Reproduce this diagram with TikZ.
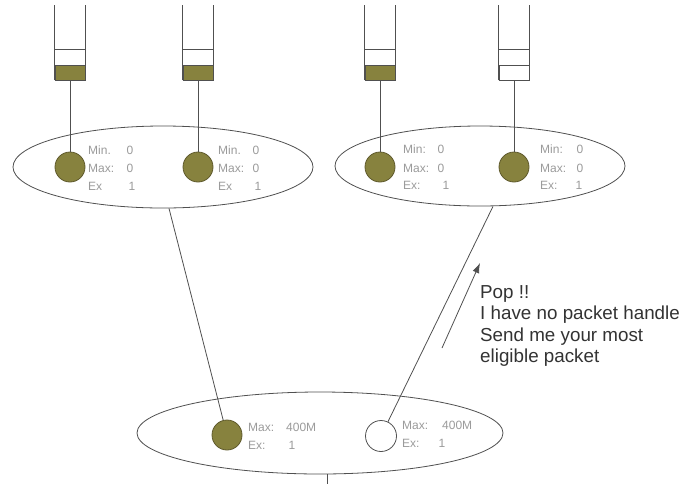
\documentclass[tikz,border=0pt]{standalone}
\usepackage{fontspec}
\setmainfont{Liberation Sans}
\usetikzlibrary{shapes.geometric,arrows.meta}
\definecolor{olivefill}{RGB}{135,130,62}
\definecolor{olivedraw}{RGB}{95,90,45}
\definecolor{linegray}{RGB}{80,80,80}
\definecolor{textgray}{RGB}{155,155,155}
\begin{document}
\begin{tikzpicture}[x=1pt,y=-1pt,
  conn/.style={draw=linegray, line width=0.8pt},
  group/.style={ellipse, draw=linegray, line width=0.8pt, inner sep=0pt},
  sched/.style={circle, draw=olivedraw, fill=olivefill, line width=0.8pt, minimum size=30pt, inner sep=0pt},
  idle/.style={circle, draw=linegray, fill=white, line width=0.8pt, minimum size=31pt, inner sep=0pt},
  slot/.style={rectangle, draw=linegray, fill=olivefill, line width=0.8pt, minimum width=30pt, minimum height=15pt, inner sep=0pt},
  emptyslot/.style={slot, fill=white},
  lbl/.style={text=textgray, font=\fontsize{12}{14}\selectfont, inner sep=0pt, anchor=west},
  val/.style={text=textgray, font=\fontsize{12}{14}\selectfont, inner sep=0pt},
  note/.style={font=\fontsize{18.8}{21.5}\selectfont, text=black!80, align=left, inner sep=0pt, anchor=north west}]

\useasboundingbox (0,0) rectangle (683,483);
\fill[white] (0,0) rectangle (683,483);

% groups
\node[group, minimum width=300pt, minimum height=82pt] (e1) at (163,167) {};
\node[group, minimum width=290pt, minimum height=80pt] (e2) at (480,166) {};
\node[group, minimum width=366pt, minimum height=82pt] (e3) at (320,433) {};

% queues
\node[slot] (q1) at (70,72.5) {};
\node[slot] (q2) at (198,72.5) {};
\node[slot] (q3) at (380,72.5) {};
\node[emptyslot] (q4) at (514,72.5) {};
\foreach \q in {q1,q2,q3,q4}{
  \draw[conn] (\q.south west) -- ++(0,-75);
  \draw[conn] (\q.south east) -- ++(0,-75);
  \draw[conn] ([yshift=15pt]\q.north west) -- ([yshift=15pt]\q.north east);
}

% leaf classes
\node[sched] (c1) at (70,167) {};
\node[sched] (c2) at (198,167) {};
\node[sched] (c3) at (380,167) {};
\node[sched] (c4) at (514,167) {};
\draw[conn] (q1.south) -- (c1);
\draw[conn] (q2.south) -- (c2);
\draw[conn] (q3.south) -- (c3);
\draw[conn] (q4.south) -- (c4);

% root classes
\node[sched] (b1) at (227,435) {};
\node[idle] (b2) at (381,436) {};
\draw[conn] ([xshift=6pt]e1.south) -- (b1);
\draw[conn] ([xshift=13pt]e2.south) -- (b2);
\coordinate (down) at (327,492);
\draw[conn] ([xshift=7pt]e3.south) -- (down);

% labels top
\node[lbl] (l1a) at (88,150) {Min.};
\node[lbl] (l1b) at (88,168) {Max:};
\node[lbl] (l1c) at (88,186) {Ex};
\node[val] (v1a) at (130,150) {0};
\node[val] (v1b) at (130,168) {0};
\node[val] (v1c) at (132,186) {1};

\node[lbl] (l2a) at (218,150) {Min.};
\node[lbl] (l2b) at (218,168) {Max:};
\node[lbl] (l2c) at (218,186) {Ex};
\node[val] (v2a) at (256,150) {0};
\node[val] (v2b) at (256,168) {0};
\node[val] (v2c) at (258,186) {1};

\node[lbl] (l3a) at (403,149) {Min:};
\node[lbl] (l3b) at (403,168) {Max:};
\node[lbl] (l3c) at (403,185) {Ex:};
\node[val] (v3a) at (441,149) {0};
\node[val] (v3b) at (441,168) {0};
\node[val] (v3c) at (446,185) {1};

\node[lbl] (l4a) at (540,149) {Min:};
\node[lbl] (l4b) at (540,168) {Max:};
\node[lbl] (l4c) at (540,185) {Ex:};
\node[val] (v4a) at (580,149) {0};
\node[val] (v4b) at (580,168) {0};
\node[val] (v4c) at (579,185) {1};

% labels bottom
\node[lbl] (l5a) at (248,427) {Max:};
\node[lbl] (l5b) at (248,445) {Ex:};
\node[val, anchor=west] (v5a) at (286,427) {400M};
\node[val] (v5b) at (292,445) {1};

\node[lbl] (l6a) at (402,425) {Max:};
\node[lbl] (l6b) at (402,443) {Ex:};
\node[val, anchor=west] (v6a) at (442,425) {400M};
\node[val] (v6b) at (442,443) {1};

% request arrow
\coordinate (as) at (442,348);
\coordinate (ae) at (480,263);
\draw[conn, -{Latex[length=10pt,width=7pt]}] (as) -- (ae);

\node[note] (msg) at (480,285) {Pop !!\\I have no packet handle\\Send me your most\\eligible packet};
\end{tikzpicture}
\end{document}
